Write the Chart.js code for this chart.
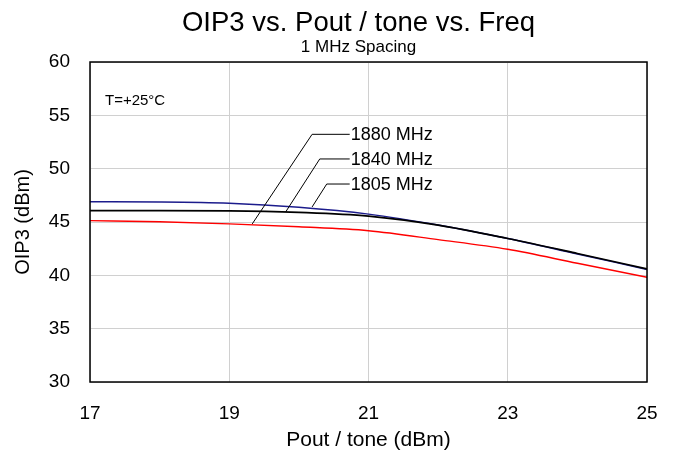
<!DOCTYPE html>
<html>
<head>
<meta charset="utf-8">
<script src="https://cdn.jsdelivr.net/npm/chart.js@4"></script>
<style>
  html, body { margin: 0; padding: 0; background: #fff; }
  #wrap { width: 673px; height: 455px; }
</style>
</head>
<body>
<div id="wrap"><canvas id="oip3Chart" width="673" height="455"></canvas></div>
<script>
const pout = [17, 18, 19, 20, 21, 22, 23, 24, 25];
const oip3_1805 = [46.9, 46.88, 46.76, 46.38, 45.74, 44.72, 43.45, 42.0, 40.55];
const oip3_1840 = [46.07, 46.07, 46.05, 45.9, 45.55, 44.7, 43.45, 42.05, 40.6];
const oip3_1880 = [45.13, 45.02, 44.82, 44.55, 44.18, 43.35, 42.44, 41.13, 39.82];

const xTicks = [17, 19, 21, 23, 25];
const yTicks = [30, 35, 40, 45, 50, 55, 60];

// callout labels: text, point on curve, elbow
const calloutText = ['1880 MHz', '1840 MHz', '1805 MHz'];
const calloutCurve = [[19.33, 44.82], [19.81, 45.94], [20.19, 46.41]];
const calloutElbow = [[20.19, 53.22], [20.3, 50.91], [20.4, 48.56]];
const calloutEnd = 20.73;

const toPoints = (ys) => ys.map((y, i) => ({ x: pout[i], y: y }));

const FONT = 'Arial, "Liberation Sans", sans-serif';

// heading text sits slightly left of the plot centre
const headings = {
  id: 'headings',
  afterDraw(chart) {
    const { ctx, chartArea: a } = chart;
    const cx = (a.left + a.right) / 2 - 10;
    ctx.save();
    ctx.fillStyle = '#000';
    ctx.textAlign = 'center';
    ctx.textBaseline = 'middle';
    ctx.font = '27.5px ' + FONT;
    ctx.fillText('OIP3 vs. Pout / tone vs. Freq', cx, 23);
    ctx.font = '17px ' + FONT;
    ctx.fillText('1 MHz Spacing', cx, 47);
    ctx.restore();
  }
};

const frameAndNotes = {
  id: 'frameAndNotes',
  afterDatasetsDraw(chart) {
    const { ctx, chartArea: a, scales: { x, y } } = chart;
    ctx.save();
    // leader lines
    ctx.strokeStyle = '#000';
    ctx.lineWidth = 1;
    ctx.fillStyle = '#000';
    ctx.font = '18px ' + FONT;
    ctx.textBaseline = 'middle';
    calloutText.forEach((t, i) => {
      const cx = x.getPixelForValue(calloutCurve[i][0]);
      const cy = y.getPixelForValue(calloutCurve[i][1]);
      const ex = x.getPixelForValue(calloutElbow[i][0]);
      const ey = y.getPixelForValue(calloutElbow[i][1]);
      const endX = x.getPixelForValue(calloutEnd);
      ctx.beginPath();
      ctx.moveTo(cx, cy);
      ctx.lineTo(ex, ey);
      ctx.lineTo(endX, ey);
      ctx.stroke();
      ctx.fillText(t, endX + 1, ey + 1);
    });
    ctx.font = '15px ' + FONT;
    ctx.fillText('T=+25°C', a.left + 15, y.getPixelForValue(56.4));
    // plot frame
    ctx.lineWidth = 1.5;
    ctx.strokeRect(a.left, a.top, a.right - a.left, a.bottom - a.top);
    ctx.restore();
  }
};

new Chart(document.getElementById('oip3Chart').getContext('2d'), {
  type: 'line',
  data: {
    datasets: [
      { label: '1840 MHz', data: toPoints(oip3_1840), borderColor: '#000000', borderWidth: 1.7 },
      { label: '1880 MHz', data: toPoints(oip3_1880), borderColor: '#ff0000', borderWidth: 1.4 },
      { label: '1805 MHz', data: toPoints(oip3_1805), borderColor: '#1c1c8c', borderWidth: 1.4 }
    ]
  },
  options: {
    responsive: false,
    animation: false,
    layout: { padding: { left: 0, right: 26, top: 62, bottom: 0 } },
    elements: {
      point: { radius: 0 },
      line: { cubicInterpolationMode: 'monotone', fill: false }
    },
    plugins: {
      legend: { display: false },
      tooltip: { enabled: false },
      title: { display: false }
    },
    scales: {
      x: {
        type: 'linear',
        min: 17,
        max: 25,
        afterBuildTicks: (s) => { s.ticks = xTicks.map(v => ({ value: v })); },
        afterFit: (s) => { s.height = 73; s.paddingLeft = 0; s.paddingRight = 0; },
        grid: { color: '#d0d0d0', lineWidth: 1, drawTicks: false },
        border: { display: false },
        ticks: { color: '#000', font: { family: FONT, size: 19 }, padding: 20 },
        title: {
          display: true,
          text: 'Pout / tone (dBm)',
          color: '#000',
          font: { family: FONT, size: 21 },
          padding: { top: 3, bottom: 2 }
        }
      },
      y: {
        min: 30,
        max: 60,
        afterBuildTicks: (s) => { s.ticks = yTicks.map(v => ({ value: v })); },
        afterFit: (s) => { s.width = 90; },
        grid: { color: '#d0d0d0', lineWidth: 1, drawTicks: false },
        border: { display: false },
        ticks: { color: '#000', font: { family: FONT, size: 19 }, padding: 20 },
        title: {
          display: true,
          text: 'OIP3 (dBm)',
          color: '#000',
          font: { family: FONT, size: 20 },
          padding: { top: 11, bottom: 0 }
        }
      }
    }
  },
  plugins: [frameAndNotes, headings]
});
</script>
</body>
</html>
